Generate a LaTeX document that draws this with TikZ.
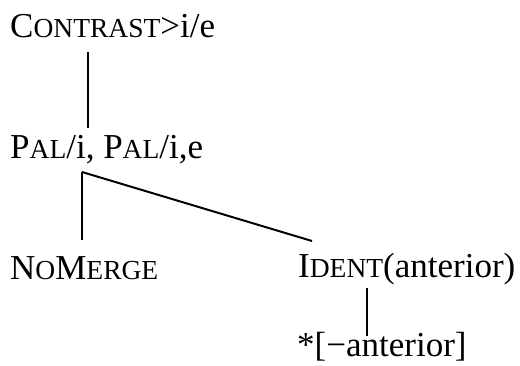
\documentclass[tikz,border=0pt]{standalone}
\usepackage{fontspec}
\setmainfont{Liberation Serif}
\newcommand{\sck}[1]{{\fontsize{27.5}{30}\selectfont #1}}
\begin{document}
\begin{tikzpicture}[x=1pt,y=-1pt,
  lbl/.style={anchor=base west,inner sep=0pt,font=\fontsize{35}{38}\selectfont},
  edge/.style={line width=2pt}]
\useasboundingbox (0,0) rectangle (520,365);
\node[lbl] (c) at (10,37) {C\sck{ONTRAST}>i/e};
\node[lbl] (p) at (10,158) {P\sck{AL}/i, P\sck{AL}/i,e};
\node[lbl] (n) at (10,279) {N\sck{O}M\sck{ERGE}};
\node[lbl] (d) at (298,277) {I\sck{DENT}(anterior)};
\node[lbl] (s) at (297,356) {*[\textminus anterior]};
\draw[edge] ([shift={(78,15)}]c.base west) -- ([shift={(78,-30)}]p.base west);
\coordinate (j) at ([shift={(72,14)}]p.base west);
\draw[edge] (j) -- ([shift={(72,-39)}]n.base west);
\draw[edge] (j) -- ([shift={(14,-36)}]d.base west);
\draw[edge] ([shift={(69,11)}]d.base west) -- ([shift={(70,-20)}]s.base west);
\end{tikzpicture}
\end{document}
